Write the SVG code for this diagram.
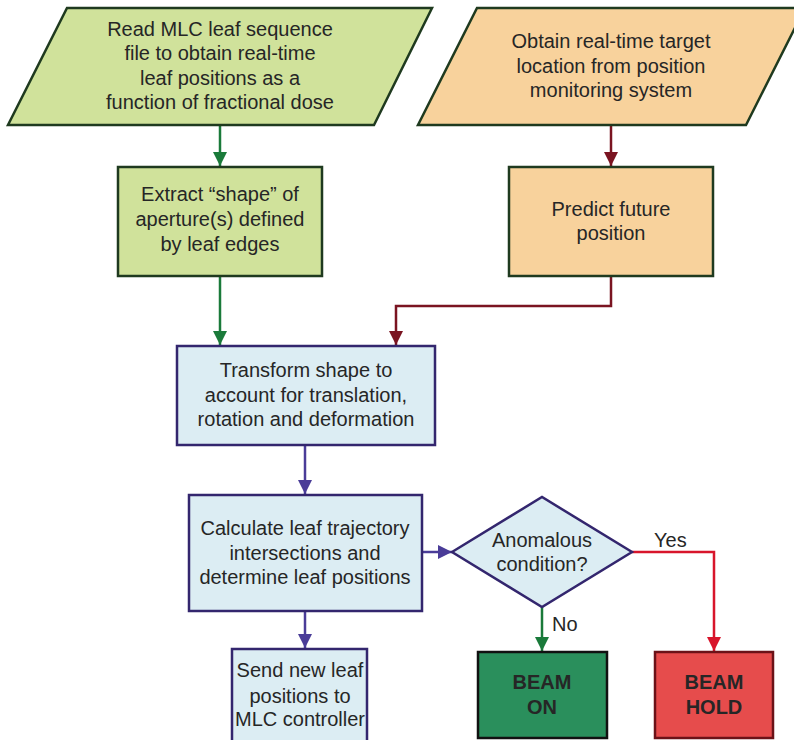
<svg xmlns="http://www.w3.org/2000/svg" width="794" height="740" viewBox="0 0 794 740">
<defs>
<style>
text{font-family:"Liberation Sans",Arial,sans-serif;font-size:20px;fill:#262626;text-anchor:middle}
.b{font-weight:bold}
.lbl{text-anchor:start}
.green{fill:#d0e29b;stroke:#1f3a1f;stroke-width:2.5}
.orange{fill:#f8d29c;stroke:#1f3a1f;stroke-width:2.5}
.blue{fill:#dcedf3;stroke:#33266e;stroke-width:2.5}
.on{fill:#2a8f5c;stroke:#111;stroke-width:2.5}
.hold{fill:#e64c4c;stroke:#6b1218;stroke-width:2.5}
.c{fill:none;stroke-width:2.5}
</style>
<marker id="ag" markerUnits="userSpaceOnUse" markerWidth="14" markerHeight="14" viewBox="0 0 14 14" refX="14" refY="7" orient="auto"><path d="M0,0 L14,7 L0,14 Z" fill="#1a7a3a"/></marker>
<marker id="ar" markerUnits="userSpaceOnUse" markerWidth="14" markerHeight="14" viewBox="0 0 14 14" refX="14" refY="7" orient="auto"><path d="M0,0 L14,7 L0,14 Z" fill="#7a1421"/></marker>
<marker id="ap" markerUnits="userSpaceOnUse" markerWidth="14" markerHeight="14" viewBox="0 0 14 14" refX="14" refY="7" orient="auto"><path d="M0,0 L14,7 L0,14 Z" fill="#4a3c98"/></marker>
<marker id="arr" markerUnits="userSpaceOnUse" markerWidth="14" markerHeight="14" viewBox="0 0 14 14" refX="14" refY="7" orient="auto"><path d="M0,0 L14,7 L0,14 Z" fill="#d8152b"/></marker>
</defs>
<rect width="794" height="740" fill="#fff"/>
<g id="connectors">
<path class="c" stroke="#1a7a3a" d="M220,125 V166" marker-end="url(#ag)"/>
<path class="c" stroke="#7a1421" d="M611,125 V166" marker-end="url(#ar)"/>
<path class="c" stroke="#1a7a3a" d="M220,277 V345" marker-end="url(#ag)"/>
<path class="c" stroke="#7a1421" d="M611,277 V306 H396 V345" marker-end="url(#ar)"/>
<path class="c" stroke="#4a3c98" d="M305,446 V494" marker-end="url(#ap)"/>
<path class="c" stroke="#4a3c98" d="M422,552 H452" marker-end="url(#ap)"/>
<path class="c" stroke="#4a3c98" d="M305,611 V648" marker-end="url(#ap)"/>
<path class="c" stroke="#1a7a3a" d="M542,607 V651" marker-end="url(#ag)"/>
<path class="c" stroke="#d8152b" d="M632,552 H714 V651" marker-end="url(#arr)"/>
<text class="lbl" x="654" y="547">Yes</text>
<text class="lbl" x="552" y="631">No</text>
</g>
<g id="read">
<polygon class="green" points="67,8 432,8 374,125 8,125"/>
<text x="220" y="36">Read MLC leaf sequence</text>
<text x="220" y="60">file to obtain real-time</text>
<text x="220" y="85">leaf positions as a</text>
<text x="220" y="109">function of fractional dose</text>
</g>
<g id="obtain">
<polygon class="orange" points="477,8 805,8 746,125 418,125"/>
<text x="611" y="48">Obtain real-time target</text>
<text x="611" y="73">location from position</text>
<text x="611" y="97">monitoring system</text>
</g>
<g id="extract">
<rect class="green" x="118" y="167" width="204" height="109"/>
<text x="220" y="201">Extract “shape” of</text>
<text x="220" y="226">aperture(s) defined</text>
<text x="220" y="251">by leaf edges</text>
</g>
<g id="predict">
<rect class="orange" x="509" y="167" width="204" height="109"/>
<text x="611" y="216">Predict future</text>
<text x="611" y="240">position</text>
</g>
<g id="transform">
<rect class="blue" x="177" y="346" width="258" height="99"/>
<text x="306" y="377">Transform shape to</text>
<text x="306" y="402">account for translation,</text>
<text x="306" y="426">rotation and deformation</text>
</g>
<g id="calculate">
<rect class="blue" x="189" y="495" width="233" height="116"/>
<text x="305" y="535">Calculate leaf trajectory</text>
<text x="305" y="560">intersections and</text>
<text x="305" y="584">determine leaf positions</text>
</g>
<g id="anomalous">
<polygon class="blue" points="452,552 542,497 632,552 542,607"/>
<text x="542" y="547">Anomalous</text>
<text x="542" y="571">condition?</text>
</g>
<g id="send">
<rect class="blue" x="232" y="649" width="135" height="100"/>
<text x="300" y="677">Send new leaf</text>
<text x="300" y="703">positions to</text>
<text x="300" y="726">MLC controller</text>
</g>
<g id="beamon">
<rect class="on" x="478" y="652" width="129" height="86"/>
<text class="b" x="542" y="689">BEAM</text>
<text class="b" x="542" y="714">ON</text>
</g>
<g id="beamhold">
<rect class="hold" x="655" y="652" width="118" height="86"/>
<text class="b" x="714" y="689">BEAM</text>
<text class="b" x="714" y="714">HOLD</text>
</g>
</svg>
